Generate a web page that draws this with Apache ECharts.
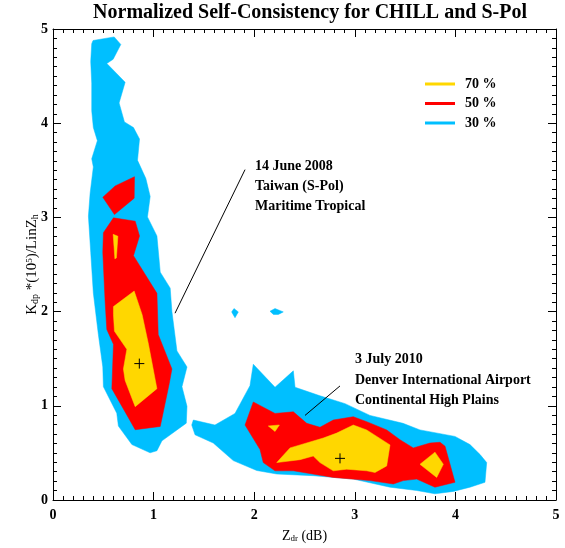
<!DOCTYPE html>
<html>
<head>
<meta charset="utf-8">
<script src="https://cdn.jsdelivr.net/npm/echarts@6/dist/echarts.min.js"></script>
<style>
html,body{margin:0;padding:0;background:#fff;}
#chart{width:565px;height:548px;}
</style>
</head>
<body>
<div id="chart"></div>
<script>
// Normalized self-consistency contours (Zdr in dB vs Kdp*(10^5)/LinZh)
// Each contour is a closed polygon given as [Zdr, Kdp/LinZh] vertices.

// 14 June 2008, Taiwan (S-Pol)
const taiwan30 = [
  [0.385,4.843],[0.398,4.878],[0.608,4.916],[0.674,4.836],[0.598,4.679],[0.535,4.634],
  [0.717,4.435],[0.657,4.215],[0.710,4.014],[0.800,3.954],[0.860,3.832],[0.840,3.606],
  [0.923,3.413],[0.966,3.222],[0.939,3.005],[1.033,2.803],[1.066,2.419],[1.165,2.249],
  [1.182,2.001],[1.232,1.583],[1.332,1.412],[1.282,1.203],[1.332,0.994],[1.325,0.816],
  [1.083,0.628],[1.033,0.523],[0.965,0.501],[0.784,0.589],[0.650,0.785],[0.634,0.921],
  [0.501,1.203],[0.495,1.412],[0.451,1.757],[0.401,2.197],[0.375,2.629],[0.352,3.013],
  [0.369,3.256],[0.401,3.536],[0.385,3.622],[0.441,3.815],[0.401,3.954],[0.385,4.132],
  [0.385,4.425],[0.375,4.655]
];
const taiwan50a = [[0.495,3.214],[0.618,3.334],[0.810,3.432],[0.807,3.204],[0.611,3.030]];
const taiwan50b = [
  [0.601,2.995],[0.817,2.960],[0.860,2.803],[0.800,2.594],[1.033,2.194],[1.046,1.757],
  [1.182,1.391],[1.155,1.234],[1.066,0.781],[0.817,0.746],[0.734,0.903],[0.585,1.182],
  [0.601,1.653],[0.535,1.810],[0.518,2.106],[0.495,2.629],[0.501,2.838]
];
const taiwan70a = [[0.598,2.82],[0.645,2.80],[0.630,2.57],[0.615,2.56]];
const taiwan70b = [
  [0.601,2.053],[0.807,2.218],[0.886,1.967],[0.949,1.653],[1.033,1.182],[0.817,0.991],
  [0.717,1.269],[0.700,1.391],[0.734,1.600],[0.611,1.792],[0.601,1.967]
];
const isolated30a = [[1.776,1.997],[1.799,2.032],[1.842,1.997],[1.809,1.935]];
const isolated30b = [[2.157,2.004],[2.207,2.032],[2.289,1.997],[2.240,1.970],[2.191,1.970]];

// 3 July 2010, Denver International Airport
const denver30 = [
  [1.379,0.796],[1.395,0.849],[1.610,0.796],[1.809,0.919],[1.958,1.214],[1.991,1.441],
  [2.207,1.197],[2.389,1.371],[2.406,1.197],[2.654,1.106],[2.903,1.023],[3.151,0.898],
  [3.479,0.814],[3.648,0.744],[3.996,0.675],[4.145,0.588],[4.245,0.483],[4.311,0.397],
  [4.294,0.188],[4.145,0.136],[3.979,0.091],[3.797,0.066],[3.615,0.101],[3.350,0.136],
  [2.985,0.222],[2.587,0.258],[2.224,0.276],[2.025,0.313],[1.792,0.418],[1.593,0.605],
  [1.412,0.692]
];
const denver50 = [
  [1.909,0.796],[1.991,1.041],[2.207,0.919],[2.389,0.936],[2.522,0.814],[2.654,0.772],
  [2.786,0.849],[2.985,0.884],[3.118,0.832],[3.317,0.744],[3.449,0.640],[3.581,0.553],
  [3.748,0.605],[3.847,0.613],[3.897,0.571],[3.996,0.188],[3.797,0.136],[3.615,0.222],
  [3.482,0.206],[3.383,0.170],[3.151,0.206],[2.786,0.240],[2.389,0.310],[2.207,0.310],
  [2.090,0.397],[2.058,0.535]
];
const denver70a = [[2.140,0.786],[2.250,0.796],[2.207,0.728]];
const denver70b = [
  [2.224,0.397],[2.356,0.553],[2.687,0.658],[2.820,0.710],[2.985,0.796],[3.118,0.744],
  [3.350,0.585],[3.317,0.362],[3.201,0.292],[3.118,0.310],[2.919,0.327],[2.786,0.310],
  [2.654,0.397],[2.587,0.467],[2.455,0.428]
];
const denver70c = [[3.648,0.379],[3.797,0.508],[3.880,0.379],[3.814,0.240]];

// Distribution centres
const centres = [[0.858,1.448],[2.853,0.442]];

// Leader lines from annotations to each case
const leaderTaiwan = [[1.909,3.507],[1.213,1.983]];
const leaderDenver = [[2.853,1.211],[2.505,0.898]];

const levelLabels = ['70 %','50 %','30 %'];
const levelColors = ['#FFD700','#FF0000','#00BFFF'];
const xTicks = [0,1,2,3,4,5];
const yTicks = [0,1,2,3,4,5];

const SERIF = '"Liberation Serif","DejaVu Serif",serif';

function polygonSeries(points, color) {
  return {
    type: 'custom',
    coordinateSystem: 'cartesian2d',
    silent: true,
    data: points,
    renderItem: function (params, api) {
      if (params.dataIndex !== 0) return null;
      const pts = points.map(p => api.coord(p));
      return {
        type: 'polygon',
        shape: { points: pts },
        style: { fill: color, stroke: color, lineWidth: 0.5 }
      };
    },
    z: 2
  };
}

function lineSeries(points) {
  return {
    type: 'line',
    data: points,
    symbol: 'none',
    silent: true,
    lineStyle: { color: '#000', width: 1 },
    z: 4
  };
}

const chart = echarts.init(document.getElementById('chart'), null, { renderer: 'canvas' });

const axisCommon = {
  type: 'value', min: 0, max: 5, interval: 1,
  axisLine: { show: true, onZero: false, lineStyle: { color: '#000', width: 1 } },
  axisTick: { show: true, inside: true, length: 8, lineStyle: { color: '#000' } },
  minorTick: { show: true, splitNumber: 10, length: 4, lineStyle: { color: '#000' } },
  splitLine: { show: false },
  minorSplitLine: { show: false }
};

const series = [
  polygonSeries(taiwan30, levelColors[2]),
  polygonSeries(isolated30a, levelColors[2]),
  polygonSeries(isolated30b, levelColors[2]),
  polygonSeries(denver30, levelColors[2]),
  polygonSeries(taiwan50a, levelColors[1]),
  polygonSeries(taiwan50b, levelColors[1]),
  polygonSeries(denver50, levelColors[1]),
  polygonSeries(taiwan70a, levelColors[0]),
  polygonSeries(taiwan70b, levelColors[0]),
  polygonSeries(denver70a, levelColors[0]),
  polygonSeries(denver70b, levelColors[0]),
  polygonSeries(denver70c, levelColors[0]),
  {
    type: 'custom',
    coordinateSystem: 'cartesian2d',
    silent: true,
    data: centres,
    renderItem: function (params, api) {
      const c = api.coord([api.value(0), api.value(1)]);
      return {
        type: 'group',
        children: [
          { type: 'line', shape: { x1: c[0] - 5, y1: c[1], x2: c[0] + 5, y2: c[1] }, style: { stroke: '#000', lineWidth: 1 } },
          { type: 'line', shape: { x1: c[0], y1: c[1] - 5, x2: c[0], y2: c[1] + 5 }, style: { stroke: '#000', lineWidth: 1 } }
        ]
      };
    },
    z: 5
  },
  lineSeries(leaderTaiwan),
  lineSeries(leaderDenver)
];

const legendGraphics = [];
levelLabels.forEach((lab, i) => {
  const y = 84 + i * 19.5;
  legendGraphics.push({
    type: 'line', shape: { x1: 425, y1: y, x2: 455, y2: y },
    style: { stroke: levelColors[i], lineWidth: 3 }
  });
  legendGraphics.push({
    type: 'text', x: 465, y: y,
    style: { text: lab, font: 'bold 14px ' + SERIF, fill: '#000', verticalAlign: 'middle', align: 'left' }
  });
});

const noteStyle = 'bold 14px ' + SERIF;
const notes = [
  { x: 255, y: 166, t: '14 June 2008' },
  { x: 255, y: 186, t: 'Taiwan (S-Pol)' },
  { x: 255, y: 206, t: 'Maritime Tropical' },
  { x: 355, y: 359, t: '3 July 2010' },
  { x: 355, y: 380, t: 'Denver International Airport' },
  { x: 355, y: 400, t: 'Continental High Plains' }
];

chart.setOption({
  animation: false,
  backgroundColor: '#fff',
  grid: { left: 53, top: 29, width: 503, height: 479, containLabel: false },
  xAxis: [
    Object.assign({}, axisCommon, {
      position: 'bottom',
      axisLabel: {
        show: true, margin: 8, color: '#000',
        fontFamily: SERIF, fontWeight: 'bold', fontSize: 14,
        formatter: v => xTicks.includes(v) ? String(v) : ''
      },
      name: '{m|Z}{s|dr}{m| (dB)}',
      nameLocation: 'middle',
      nameGap: 29,
      nameTextStyle: {
        color: '#000',
        rich: {
          m: { fontFamily: SERIF, fontSize: 14, color: '#000' },
          s: { fontFamily: SERIF, fontSize: 9, color: '#000', padding: [5, 0, 0, 0] }
        }
      }
    }),
    Object.assign({}, axisCommon, { position: 'top', axisLabel: { show: false } })
  ],
  yAxis: [
    Object.assign({}, axisCommon, {
      position: 'left',
      axisLabel: {
        show: true, margin: 5, color: '#000',
        fontFamily: SERIF, fontWeight: 'bold', fontSize: 14,
        formatter: v => yTicks.includes(v) ? String(v) : ''
      },
      name: '{m|K}{s|dp}{m| *(10}{p|5}{m|)/LinZ}{s|h}',
      nameLocation: 'middle',
      nameGap: 13,
      nameMoveOverlap: false,
      nameRotate: 90,
      nameTextStyle: {
        color: '#000',
        rich: {
          m: { fontFamily: SERIF, fontSize: 15, color: '#000' },
          s: { fontFamily: SERIF, fontSize: 10, color: '#000', padding: [5, 0, 0, 0] },
          p: { fontFamily: SERIF, fontSize: 9, color: '#000', padding: [0, 0, 6, 0] }
        }
      }
    }),
    Object.assign({}, axisCommon, { position: 'right', axisLabel: { show: false } })
  ],
  graphic: [
    {
      type: 'text', x: 310, y: 13,
      style: { text: 'Normalized Self-Consistency for CHILL and S-Pol', font: 'bold 20px ' + SERIF, fill: '#000', align: 'center', verticalAlign: 'middle' }
    }
  ].concat(legendGraphics).concat(notes.map(n => ({
    type: 'text', x: n.x, y: n.y,
    style: { text: n.t, font: noteStyle, fill: '#000', align: 'left', verticalAlign: 'middle' }
  }))),
  series: series
});
</script>
</body>
</html>
